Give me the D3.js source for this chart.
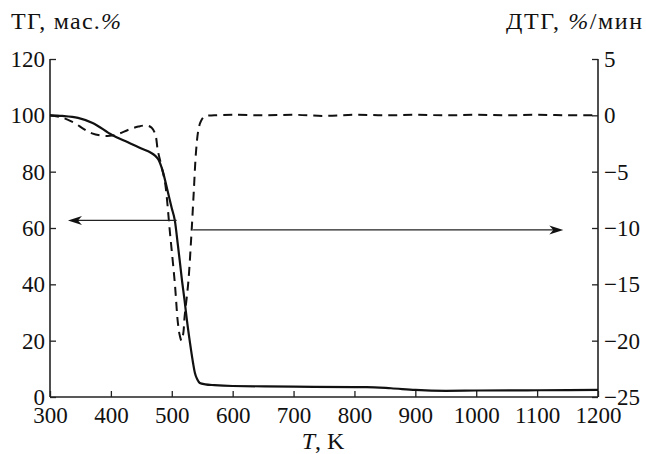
<!DOCTYPE html>
<html><head><meta charset="utf-8">
<script src="https://cdn.jsdelivr.net/npm/d3@7/dist/d3.min.js"></script>
<style>body{margin:0;background:#fff}svg{display:block}</style>
</head><body><svg id="c" width="646" height="454"></svg>
<script>
const xTicks = [300,400,500,600,700,800,900,1000,1100,1200];
const yLeftTicks = [0,20,40,60,80,100,120];
const yRightTicks = [-25,-20,-15,-10,-5,0,5];

const tgT = [300,320,346,370,402,428,451,465,472,478,485,493,500,505,510,513,517,521,525,530,535,538,542,546,555,570,600,700,800,820,860,900,950,1000,1100,1200];
const tgV = [100,99.8,99.1,97.3,93,90.4,88.1,86.8,85.8,84.3,80.3,73.3,67,62.7,54,48.5,41,34.3,27,19.1,12,8.5,6.2,5.0,4.5,4.2,3.9,3.7,3.5,3.5,3.1,2.5,2.2,2.3,2.4,2.5];

const dtgT = [300,320,341,355,369,385,402,415,428,445,459,467,473,477,483,489,497,505,510,513,516,519,521,527,532,536,540,544,548,554,570,600,650,700,750,800,850,900,950,1000,1050,1100,1150,1200];
const dtgV = [0,-0.2,-0.7,-1.2,-1.6,-1.8,-1.8,-1.6,-1.3,-1.0,-0.9,-1.1,-1.7,-3.1,-4.5,-6,-10.4,-14.9,-18.4,-19.5,-20,-19.3,-17.9,-14.9,-10.8,-6.9,-3.1,-1.2,-0.5,-0.1,0,0.05,0,0.05,-0.05,0.05,0,0.05,0,0.05,0,0.05,0,0];

const FONT = '"Liberation Serif","Times New Roman","DejaVu Serif",serif';
const svg = d3.select("#c").attr("font-family",FONT);
const L=50,R=598,T=59,B=397;
const x = d3.scaleLinear().domain([300,1200]).range([L,R]);
const yL = d3.scaleLinear().domain([0,120]).range([B,T]);
const yR = d3.scaleLinear().domain([-25,5]).range([B,T]);
const fs = 23;

const gx = svg.append("g").attr("transform",`translate(0,${B})`)
  .call(d3.axisBottom(x).tickValues(xTicks).tickSize(-6).tickPadding(10).tickFormat(d3.format("d")));
const gl = svg.append("g").attr("transform",`translate(${L},0)`)
  .call(d3.axisLeft(yL).tickValues(yLeftTicks).tickSize(-6).tickPadding(5));
const gr = svg.append("g").attr("transform",`translate(${R},0)`)
  .call(d3.axisRight(yR).tickValues(yRightTicks).tickSize(-6).tickPadding(6).tickFormat(d=>d<0?"\u2212"+(-d):d));
[gx,gl,gr].forEach(g=>{
  g.attr("font-family",FONT).attr("font-size",fs);
  g.select(".domain").attr("stroke","#222").attr("stroke-width",1.6);
  g.selectAll(".tick line").attr("stroke","#222").attr("stroke-width",1.3);
  g.selectAll(".tick text").style("font-family",FONT).style("font-size",fs+"px").attr("fill","#111");
});
gx.select(".domain").attr("d",`M${L},0H${R}`);
gl.select(".domain").attr("d",`M0,${T}V${B}`);
gr.select(".domain").attr("d",`M0,${T}V${B}`);

const lineTG = d3.line().x((d,i)=>x(tgT[i])).y((d,i)=>yL(tgV[i])).curve(d3.curveMonotoneX);
svg.append("path").attr("d",lineTG(tgT)).attr("fill","none").attr("stroke","#111").attr("stroke-width",2.2);
const lineDTG = d3.line().x((d,i)=>x(dtgT[i])).y((d,i)=>yR(dtgV[i])).curve(d3.curveCatmullRom);
svg.append("path").attr("d",lineDTG(dtgT)).attr("fill","none").attr("stroke","#111").attr("stroke-width",2).attr("stroke-dasharray","9,6");

function arrow(x1,x2,y,dir){
  svg.append("line").attr("x1",x1).attr("x2",x2+dir*6).attr("y1",y).attr("y2",y).attr("stroke","#222").attr("stroke-width",1.3);
  const s=dir;
  svg.append("path").attr("d",`M${x2},${y} L${x2+s*14},${y-4.5} L${x2+s*10},${y} L${x2+s*14},${y+4.5} Z`).attr("fill","#111");
}
arrow(x(508),x(329.5),yL(62.7),1);
arrow(x(535),x(1143),yL(59.3),-1);

function txt(xp,yp,anchor,html,len){
  const t = svg.append("text").attr("x",xp).attr("y",yp).attr("text-anchor",anchor)
    .style("font-family",FONT).style("font-size",(fs+1)+"px").attr("fill","#111").html(html);
  if(len) t.attr("textLength",len).attr("lengthAdjust","spacing");
}
txt(11,29,"start",'ТГ, мас.<tspan font-style="italic">%</tspan>',110);
txt(642,29,"end",'ДТГ, <tspan font-style="italic">%</tspan>/мин',136);
txt(323,449,"middle",'<tspan font-style="italic">T</tspan>, K');
</script></body></html>
